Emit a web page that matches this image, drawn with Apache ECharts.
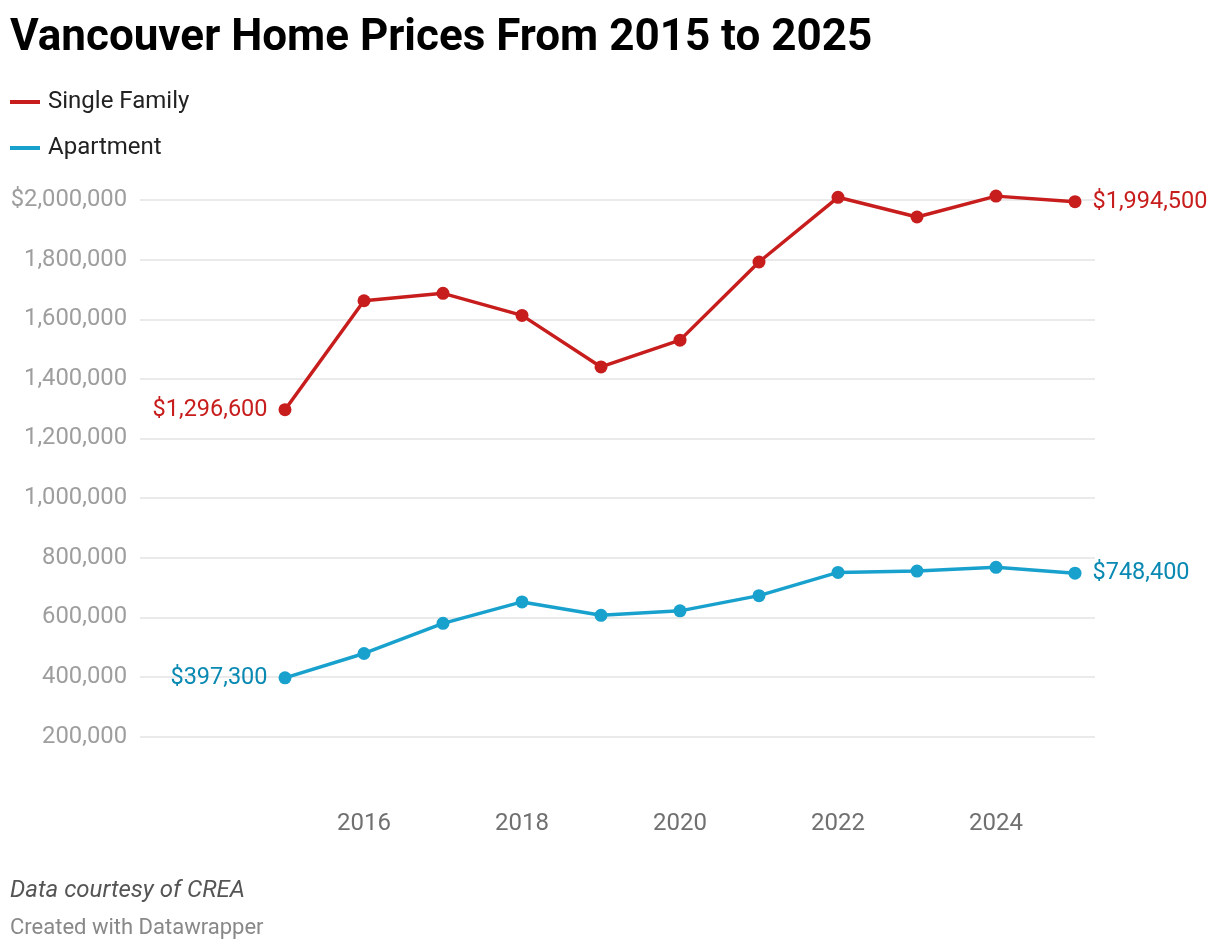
<!DOCTYPE html>
<html>
<head>
<meta charset="utf-8">
<script src="https://cdn.jsdelivr.net/npm/echarts@6/dist/echarts.min.js"></script>
<style>
  html, body { margin: 0; padding: 0; background: #fff; }
  #chart { width: 1220px; height: 952px; }
</style>
</head>
<body>
<div id="chart"></div>
<script>
const years = [2015, 2016, 2017, 2018, 2019, 2020, 2021, 2022, 2023, 2024, 2025];
const singleFamily = [1296600, 1662000, 1687000, 1613000, 1440000, 1530000, 1792000, 2009000, 1943000, 2013000, 1994500];
const apartment = [397300, 479000, 580000, 652000, 607000, 622000, 673000, 751000, 755500, 768000, 748400];
const xTickLabels = [2016, 2018, 2020, 2022, 2024];
const seriesNames = ['Single Family', 'Apartment'];

const FONT = 'Roboto, "Noto Sans", sans-serif';
const RED = '#c71e1d';
const BLUE = '#18a1cd';
const RED_LABEL = '#c71e1d';
const BLUE_LABEL = '#0a89b3';

function money(v) {
  return '$' + v.toLocaleString('en-US');
}

function buildData(values, labelColor) {
  return values.map((v, i) => {
    const item = { value: [years[i], v] };
    if (i === 0 || i === values.length - 1) {
      item.label = {
        show: true,
        position: i === 0 ? 'left' : 'right',
        distance: 11,
        formatter: () => money(v),
        color: labelColor,
        fontSize: 23.5,
        fontFamily: FONT
      };
    }
    return item;
  });
}

const chart = echarts.init(document.getElementById('chart'), null, { renderer: 'canvas' });

const option = {
  backgroundColor: '#fff',
  animation: false,
  title: {
    text: 'Vancouver Home Prices From 2015 to 2025',
    left: 10,
    top: 17,
    padding: 0,
    textStyle: { fontFamily: FONT, fontSize: 44, fontWeight: 'bold', color: '#000' }
  },
  legend: {
    orient: 'vertical',
    left: 10,
    top: 90,
    padding: 0,
    itemGap: 22,
    itemWidth: 30,
    itemHeight: 4,
    icon: 'rect',
    data: seriesNames,
    textStyle: { fontFamily: FONT, fontSize: 24, color: '#222', lineHeight: 24, padding: [0, 0, 0, 3] }
  },
  grid: {
    left: 140,
    right: 125,
    top: 200,
    bottom: 155.7,
    containLabel: false
  },
  xAxis: {
    type: 'value',
    min: 2015 - 145 / 79,
    max: 2025 + 20 / 79,
    axisLine: { show: false },
    axisTick: { show: false },
    splitLine: { show: false },
    axisLabel: {
      customValues: xTickLabels,
      margin: 16,
      fontFamily: FONT,
      fontSize: 24,
      color: '#707070',
      formatter: v => String(Math.round(v))
    }
  },
  yAxis: {
    type: 'value',
    min: 0,
    max: 2000000,
    interval: 200000,
    axisLine: { show: false },
    axisTick: { show: false },
    splitLine: { show: true, showMinLine: false, lineStyle: { color: '#e3e3e3', width: 1.5 } },
    axisLabel: {
      showMinLabel: false,
      margin: 13,
      fontFamily: FONT,
      fontSize: 23.8,
      color: '#9e9e9e',
      formatter: v => v === 2000000 ? money(v) : v.toLocaleString('en-US')
    }
  },
  series: [
    {
      name: seriesNames[0],
      type: 'line',
      clip: false,
      symbol: 'circle',
      symbolSize: 13,
      color: RED,
      lineStyle: { width: 3.5, color: RED },
      itemStyle: { color: RED },
      data: buildData(singleFamily, RED_LABEL),
      z: 3
    },
    {
      name: seriesNames[1],
      type: 'line',
      clip: false,
      symbol: 'circle',
      symbolSize: 13,
      color: BLUE,
      lineStyle: { width: 3.5, color: BLUE },
      itemStyle: { color: BLUE },
      data: buildData(apartment, BLUE_LABEL),
      z: 3
    }
  ],
  graphic: [
    {
      type: 'text',
      left: 10,
      top: 879,
      style: { text: 'Data courtesy of CREA', fontFamily: FONT, fontSize: 24, fontStyle: 'italic', fill: '#555' }
    },
    {
      type: 'text',
      left: 10,
      top: 917,
      style: { text: 'Created with Datawrapper', fontFamily: FONT, fontSize: 22, fill: '#888' }
    }
  ]
};

chart.setOption(option);
</script>
</body>
</html>
